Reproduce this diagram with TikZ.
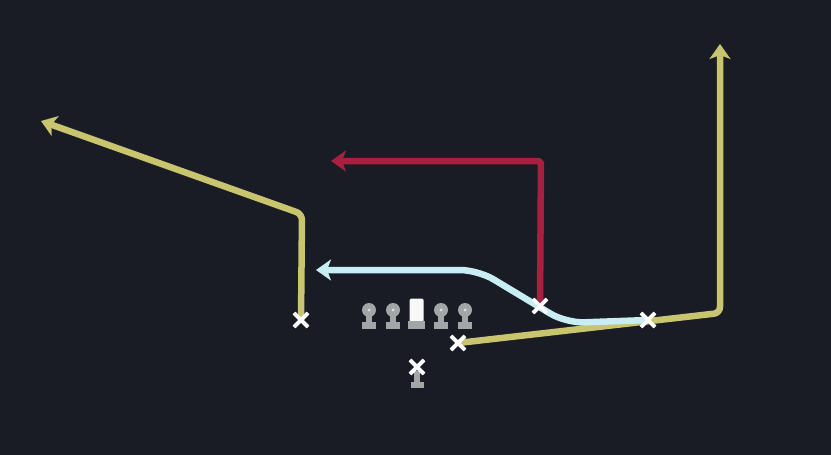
\documentclass[tikz,border=0pt]{standalone}
\usepackage{tikz}
\usetikzlibrary{arrows.meta,shapes.misc}
\definecolor{field}{HTML}{191C24}
\definecolor{routeyellow}{HTML}{C9C46E}
\definecolor{routered}{HTML}{A8203F}
\definecolor{routeblue}{HTML}{C8EEF4}
\definecolor{linegray}{HTML}{A2A6A6}
\tikzset{
    player/.style={cross out, draw=white, line width=3.8pt, minimum size=10pt, inner sep=0pt},
    route/.style={line width=6.5pt, line join=round, rounded corners=6pt,
        -{Stealth[length=15pt, width=21pt, inset=4pt]}},
    pics/lineman/.style={code={
        \fill[linegray] (0,0) circle (7pt);
        \fill[routeblue] (0,0) circle (1.5pt);
        \fill[linegray] (-3,5) rectangle (3,13);
        \fill[linegray] (-7,12) rectangle (7,18.5);
    }}
}

\begin{document}
\begin{tikzpicture}[x=1pt, y=-1pt]
    \fill[field] (0,0) rectangle (831,455);
    \useasboundingbox (0,0) rectangle (831,455);

    % offensive line
    \pic at (369,310) {lineman};
    \pic at (393,310) {lineman};
    \pic at (441,310) {lineman};
    \pic at (465,310) {lineman};
    \fill[white!92!linegray, rounded corners=1.5pt] (409.5,298.5) rectangle (423.5,322);
    \fill[linegray] (408,321) rectangle (425,328.5);

    % quarterback stand
    \fill[linegray] (414,371) rectangle (420,384);
    \fill[linegray] (410.5,382) rectangle (423.5,388);

    % route ends
    \coordinate (wbreak) at (302,214);
    \coordinate (wend) at (41,121);
    \coordinate (sbreak) at (720,313);
    \coordinate (send) at (720,44);
    \coordinate (rbreak) at (541,161);
    \coordinate (rend) at (331,161);
    \coordinate (bbend) at (566,323);
    \coordinate (bbreak) at (478,270);
    \coordinate (bend) at (316,270);

    % players
    \node (wr) at (301,320) [player] {};
    \node (slot) at (458,343) [player] {};
    \node (te) at (540,306) [player] {};
    \node (back) at (648,320) [player] {};
    \node (qb) at (417,367) [player] {};

    % routes
    \draw[route, routeyellow] (wr.center) -- (wbreak) -- (wend);
    \draw[route, routeyellow] (slot.center) -- (sbreak) -- (send);
    \draw[route, routered, rounded corners=3pt] (te.center) -- (rbreak) -- (rend);
    \draw[route, routeblue, rounded corners=18pt] (back.center) -- (bbend) -- (bbreak) -- (bend);

    % marks on top of the routes
    \foreach \p in {wr, slot, te, back, qb}
        \node at (\p) [player] {};
\end{tikzpicture}
\end{document}
